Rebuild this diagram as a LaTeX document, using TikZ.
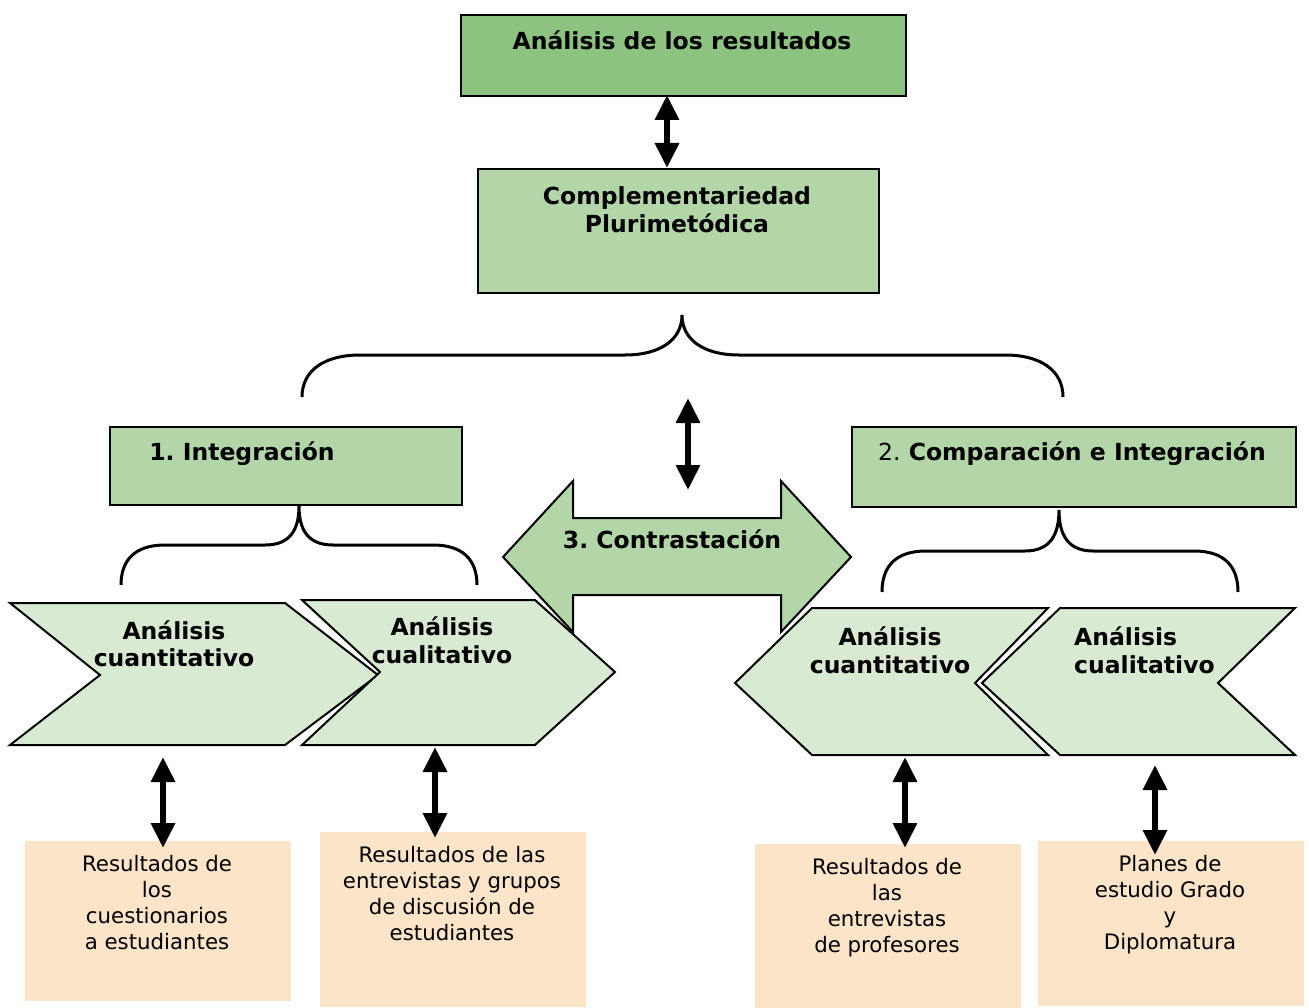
\documentclass[tikz,border=0pt]{standalone}
\usepackage{fontspec}
\setmainfont{DejaVu Sans}
\usetikzlibrary{arrows.meta}
\frenchspacing

\definecolor{gDark}{HTML}{8CC380}
\definecolor{gMid}{HTML}{B3D6A8}
\definecolor{gLight}{HTML}{D9EAD3}
\definecolor{peach}{HTML}{FCE4C9}

\tikzset{
  box/.style={draw=black, line width=2pt, inner sep=0pt, anchor=north west},
  outl/.style={draw=black, line width=2pt, line join=miter},
  bold/.style={font=\fontsize{23.5}{28}\selectfont\bfseries, align=center, inner sep=0pt},
  plain/.style={font=\fontsize{21.3}{26}\selectfont, align=center, inner sep=0pt},
  brace/.style={line width=3pt},
  dbl/.style={line width=6pt,
    {Triangle[width=23pt,length=25pt]}-{Triangle[width=23pt,length=25pt]}},
}

\begin{document}
\begin{tikzpicture}[x=1pt,y=-1pt]
\useasboundingbox (0,0) rectangle (1309,1008);

% ---- top boxes ----
\node[box, fill=gDark, minimum width=445, minimum height=81] (res) at (460,14) {};
\node[bold, anchor=base] (resT) at (682,49.5) {Análisis de los resultados};

\node[box, fill=gMid, minimum width=401, minimum height=124] (comp) at (477,168) {};
\node[bold, anchor=north] (compT) at (677,186) {Complementariedad\\Plurimetódica};

\coordinate (a1t) at (667,95);
\coordinate (a1b) at (667,168);
\draw[dbl] (a1t) -- (a1b);

% ---- main brace ----
\draw[brace] (302,397) .. controls (302,370) and (325,355) .. (360,355) -- (625,355)
  .. controls (660,355) and (682,340) .. (682,315)
  .. controls (682,340) and (704,355) .. (739,355) -- (1005,355)
  .. controls (1040,355) and (1063,370) .. (1063,397);

\coordinate (a2t) at (688,398);
\coordinate (a2b) at (688,490);
\draw[dbl] (a2t) -- (a2b);

% ---- second level boxes ----
\node[box, fill=gMid, minimum width=352, minimum height=78] (integ) at (109,426) {};
\node[bold, anchor=base] (integT) at (242,460.5) {1. Integración};

\node[box, fill=gMid, minimum width=444, minimum height=80] (compar) at (851,426) {};
\node[bold, anchor=base] (comparT) at (1072,460.5) {{\mdseries 2.} Comparación e Integración};

% ---- contrast double arrow ----
\draw[outl, fill=gMid] (503,557) -- (573,481) -- (573,518) -- (781,518) -- (781,481)
  -- (851,557) -- (781,632) -- (781,595) -- (573,595) -- (573,632) -- cycle;
\node[bold, anchor=base] (contrT) at (672,548.5) {3. Contrastación};

% ---- small braces ----
\draw[brace] (121,585) .. controls (121,560) and (135,545) .. (165,545) -- (265,545)
  .. controls (290,545) and (299,530) .. (299,506)
  .. controls (299,530) and (308,545) .. (333,545) -- (433,545)
  .. controls (463,545) and (477,560) .. (477,585);

\draw[brace] (882,592) .. controls (882,566) and (896,551) .. (926,551) -- (1025,551)
  .. controls (1050,551) and (1059,535) .. (1059,510)
  .. controls (1059,535) and (1068,551) .. (1093,551) -- (1194,551)
  .. controls (1224,551) and (1238,566) .. (1238,592);

% ---- chevrons ----
\draw[outl, fill=gLight] (10,603) -- (285,603) -- (378,675) -- (285,745) -- (10,745) -- (100,675) -- cycle;
\node[bold, anchor=north] (ch1T) at (174,620) {Análisis\\cuantitativo};

\draw[outl, fill=gLight] (302,600) -- (535,600) -- (615,672) -- (535,745) -- (302,745) -- (380,672) -- cycle;
\node[bold, anchor=north] (ch2T) at (442,617) {Análisis\\cualitativo};

\draw[outl, fill=gLight] (735,683) -- (812,608) -- (1048,608) -- (975,683) -- (1048,755) -- (812,755) -- cycle;
\node[bold, anchor=north] (ch3T) at (890,626) {Análisis\\cuantitativo};

\draw[outl, fill=gLight] (982,683) -- (1060,608) -- (1295,608) -- (1218,683) -- (1295,755) -- (1060,755) -- cycle;
\node[bold, anchor=north west, align=left] (ch4T) at (1074,626) {Análisis\\cualitativo};

% ---- result boxes ----
\node[box, draw=none, fill=peach, minimum width=266, minimum height=160] (r1) at (24,840) {};
\node[plain, anchor=north] (r1T) at (157,855) {Resultados de\\los\\cuestionarios\\a estudiantes};

\node[box, draw=none, fill=peach, minimum width=266, minimum height=175] (r2) at (319,831) {};
\node[plain, anchor=north] (r2T) at (452,846) {Resultados de las\\entrevistas y grupos\\de discusión de\\estudiantes};

\node[box, draw=none, fill=peach, minimum width=266, minimum height=165] (r3) at (754,843) {};
\node[plain, anchor=north] (r3T) at (887,858) {Resultados de\\las\\entrevistas\\de profesores};

\node[box, draw=none, fill=peach, minimum width=266, minimum height=165] (r4) at (1037,840) {};
\node[plain, anchor=north] (r4T) at (1170,855) {Planes de\\estudio Grado\\y\\Diplomatura};

% ---- vertical double arrows ----
\coordinate (b1t) at (163,757);  \coordinate (b1b) at (163,848);
\coordinate (b2t) at (435,747);  \coordinate (b2b) at (435,838);
\coordinate (b3t) at (905,757);  \coordinate (b3b) at (905,848);
\coordinate (b4t) at (1155,765); \coordinate (b4b) at (1155,855);
\draw[dbl] (b1t) -- (b1b);
\draw[dbl] (b2t) -- (b2b);
\draw[dbl] (b3t) -- (b3b);
\draw[dbl] (b4t) -- (b4b);

\end{tikzpicture}
\end{document}
